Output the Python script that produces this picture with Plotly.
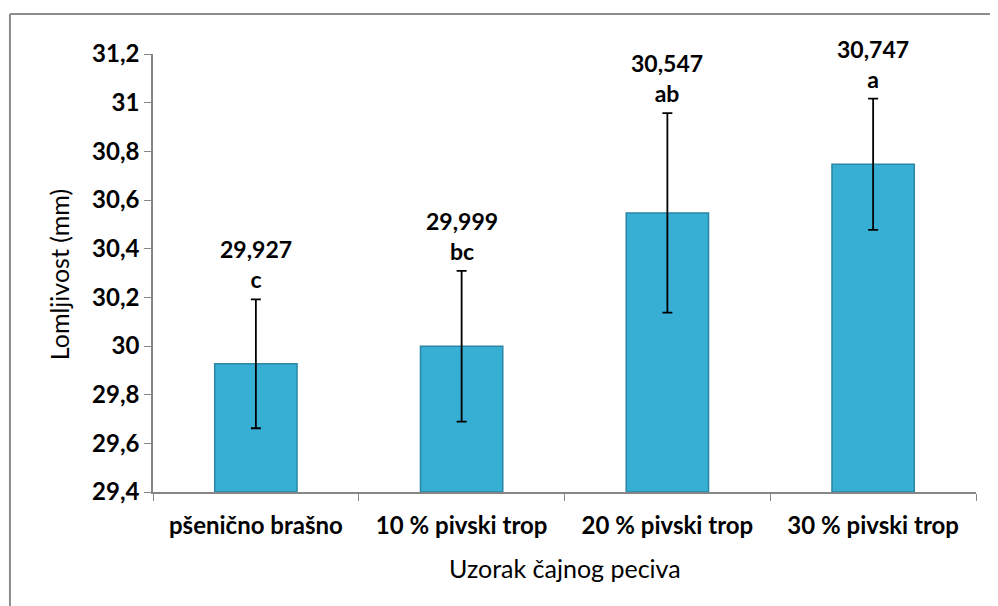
import plotly.graph_objects as go

categories = ["pšenično brašno", "10 % pivski trop", "20 % pivski trop", "30 % pivski trop"]
values = [29.927, 29.999, 30.547, 30.747]
errors = [0.265, 0.31, 0.41, 0.27]
value_labels = ["29,927", "29,999", "30,547", "30,747"]
letters = ["c", "bc", "ab", "a"]
y_ticks = [29.4, 29.6, 29.8, 30.0, 30.2, 30.4, 30.6, 30.8, 31.0, 31.2]
y_tick_labels = ["29,4", "29,6", "29,8", "30", "30,2", "30,4", "30,6", "30,8", "31", "31,2"]
y_base = 29.4
x_title = "Uzorak čajnog peciva"
y_title = "Lomljivost (mm)"

FONT = "Lato"
GREY = "#868686"

fig = go.Figure()
fig.add_trace(go.Bar(
    x=categories, y=[v - y_base for v in values], base=y_base,
    marker=dict(color="#37AED4", line=dict(color="#2A86A4", width=1.5)),
    width=0.4,
    error_y=dict(type="data", array=errors, visible=True, color="black",
                 thickness=1.8, width=5),
    hoverinfo="skip",
))

for c, v, e, vl, lt in zip(categories, values, errors, value_labels, letters):
    fig.add_annotation(x=c, y=v + e, text=f"{vl}<br>{lt}", showarrow=False,
                       yanchor="bottom", yshift=4,
                       font=dict(family=FONT, size=23, color="black", weight="bold"))

# axis titles
fig.add_annotation(xref="paper", yref="paper", x=0.5, y=-0.1735, text=x_title,
                   showarrow=False, xanchor="center", yanchor="middle",
                   font=dict(family=FONT, size=25, color="black"))
fig.add_annotation(xref="paper", yref="paper", x=-0.1142, y=0.495, text=y_title,
                   showarrow=False, xanchor="center", yanchor="middle", textangle=-90,
                   font=dict(family=FONT, size=25, color="black"))

# outer chart frame (left and top edges visible)
fig.add_shape(type="line", xref="paper", yref="paper", x0=-0.1738, x1=1.05, y0=1.0913, y1=1.0913,
              line=dict(color="#8C8C8C", width=2))
fig.add_shape(type="line", xref="paper", yref="paper", x0=-0.1738, x1=-0.1738, y0=1.0913, y1=-0.3,
              line=dict(color="#8C8C8C", width=2))

fig.update_layout(
    width=990, height=598,
    margin=dict(l=145, r=22, t=46, b=114),
    paper_bgcolor="white", plot_bgcolor="white",
    showlegend=False,
    font=dict(family=FONT, color="black"),
    xaxis=dict(
        showline=True, linecolor=GREY, linewidth=1.5,
        ticks="outside", tickson="boundaries", ticklen=7, tickcolor=GREY,
        tickfont=dict(family=FONT, size=24, weight="bold"),
        ticklabelstandoff=11,
    ),
    yaxis=dict(
        range=[29.4, 31.2], tickvals=y_ticks, ticktext=y_tick_labels,
        showline=True, linecolor=GREY, linewidth=1.5, showgrid=False, zeroline=False,
        ticks="outside", ticklen=7, tickcolor=GREY,
        tickfont=dict(family=FONT, size=24, weight="bold"),
    ),
)

fig.write_html("out.html")
